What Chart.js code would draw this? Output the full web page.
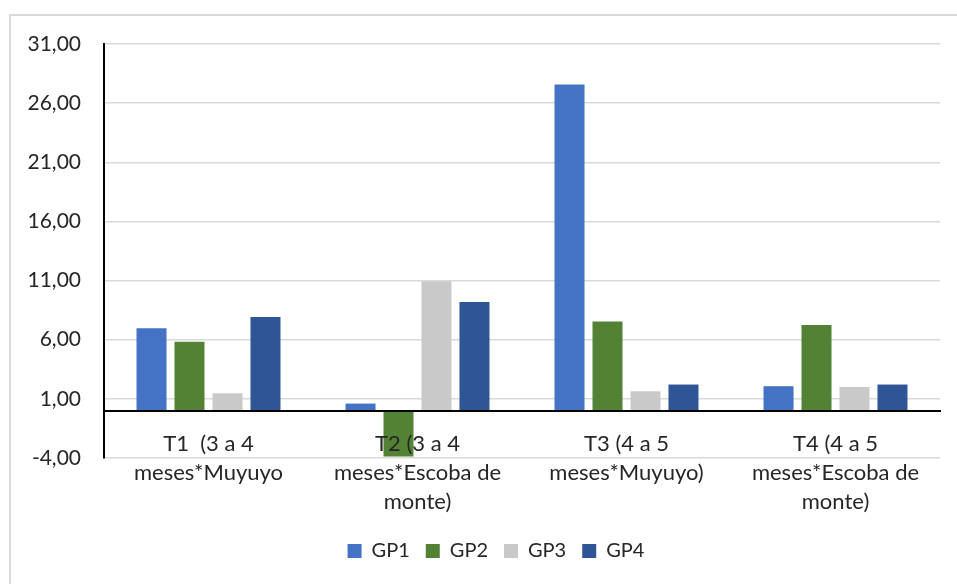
<!DOCTYPE html>
<html>
<head>
<meta charset="utf-8">
<script src="https://cdn.jsdelivr.net/npm/chart.js@4"></script>
<style>
  html, body { margin: 0; padding: 0; background: #fff; }
  #wrap { position: relative; width: 957px; height: 584px; overflow: hidden; }
  #frame { position: absolute; left: 9px; top: 14px; width: 1000px; height: 620px;
           border-left: 2px solid #d9d9d9; border-top: 2px solid #d9d9d9; }
  canvas { position: absolute; left: 0; top: 0; }
</style>
</head>
<body>
<div id="wrap">
  <div id="frame"></div>
  <canvas id="chart" width="957" height="584"></canvas>
</div>
<script>
// Treatments (x categories)
const categories = [
  ['T1  (3 a 4', 'meses*Muyuyo'],
  ['T2 (3 a 4', 'meses*Escoba de', 'monte)'],
  ['T3 (4 a 5', 'meses*Muyuyo)'],
  ['T4 (4 a 5', 'meses*Escoba de', 'monte)']
];

// Series values per treatment
const gp1 = [6.97, 0.60, 27.58, 2.07];
const gp2 = [5.83, -3.87, 7.53, 7.25];
const gp3 = [1.47, 10.94, 1.64, 2.01];
const gp4 = [7.93, 9.18, 2.21, 2.21];

const seriesNames = ['GP1', 'GP2', 'GP3', 'GP4'];
const seriesColors = ['#4472c4', '#548235', '#c9c9c9', '#2f5597'];

// Value axis ticks
const yTicks = [-4, 1, 6, 11, 16, 21, 26, 31];

const FONT = 'Lato';
const TEXT = '#262626';

const seriesData = [gp1, gp2, gp3, gp4];

// Nudge the legend so it sits centred under the framed chart rather than the canvas
const legendShift = {
  id: 'legendShift',
  afterLayout(chart) {
    const lg = chart.legend;
    if (lg) { lg.left += 26; lg.right += 26; }
  }
};

new Chart(document.getElementById('chart'), {
  type: 'bar',
  data: {
    labels: categories,
    datasets: seriesNames.map((name, i) => ({
      label: name,
      data: seriesData[i],
      backgroundColor: seriesColors[i],
      borderWidth: 0,
      barPercentage: 0.79,
      categoryPercentage: 0.727
    }))
  },
  plugins: [legendShift],
  options: {
    responsive: false,
    animation: false,
    devicePixelRatio: 1,
    layout: { padding: { left: 0, right: 17, top: 44, bottom: 13 } },
    plugins: {
      tooltip: { enabled: false },
      legend: {
        position: 'bottom',
        title: { display: true, text: ' ', font: { size: 10, lineHeight: 1 }, padding: { top: 57, bottom: 0 } },
        labels: {
          boxWidth: 14,
          boxHeight: 14,
          padding: 16,
          color: TEXT,
          font: { family: FONT, size: 20 }
        }
      }
    },
    scales: {
      x: {
        position: { y: 0 },
        grid: { display: false, drawTicks: false },
        border: { display: true, color: '#000', width: 2, z: 1 },
        ticks: {
          z: 1,
          padding: 19,
          maxRotation: 0,
          autoSkip: false,
          color: TEXT,
          font: { family: FONT, size: 22, lineHeight: 1.32 }
        }
      },
      y: {
        min: -4,
        max: 31,
        afterFit: (scale) => { scale.width = 104; },
        afterBuildTicks: (scale) => { scale.ticks = yTicks.map(v => ({ value: v })); },
        grid: { color: '#d9d9d9', lineWidth: 1.5, drawTicks: false },
        border: { display: true, color: '#000', width: 2 },
        ticks: {
          padding: 23,
          color: TEXT,
          font: { family: FONT, size: 21 },
          callback: (v) => Number(v).toFixed(2).replace('.', ',')
        }
      }
    }
  }
});
</script>
</body>
</html>
